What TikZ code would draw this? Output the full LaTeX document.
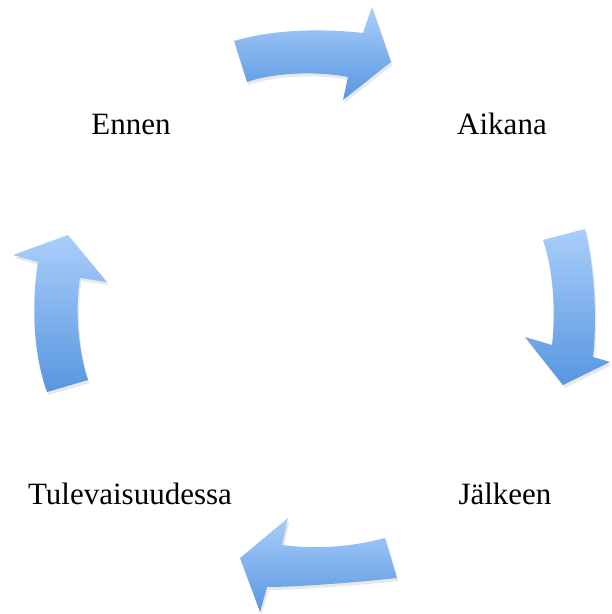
\documentclass[tikz,border=0pt]{standalone}
\usepackage{fontspec}
\setmainfont{Liberation Serif}
\usetikzlibrary{shadows}
\definecolor{arrowtop}{RGB}{170,206,250}
\definecolor{arrowbottom}{RGB}{88,150,224}
\tikzset{
  cyclearrow/.style={top color=arrowtop, bottom color=arrowbottom, draw=none,
    drop shadow={opacity=0.18, shadow xshift=1.5pt, shadow yshift=-3pt}},
  label/.style={font=\fontsize{31}{36}\selectfont, anchor=base, inner sep=0pt}
}
\begin{document}
\begin{tikzpicture}[x=1pt,y=1pt]
\useasboundingbox (0,0) rectangle (612,614);
\fill[white] (0,0) rectangle (612,614);
% labels
\node[label] (ennen) at (131,479) {Ennen};
\node[label] (aikana) at (502,479) {Aikana};
\node[label] (tulevaisuudessa) at (130,109) {Tulevaisuudessa};
\node[label] (jalkeen) at (505,109) {Jälkeen};
% top arrow
\path[cyclearrow] (234,573) .. controls (270,584) and (320,586) .. (363,581)
  -- (372,607) -- (391,552) -- (343,514) -- (348,537)
  .. controls (310,544) and (270,540) .. (247,532) -- cycle;
% right arrow
\path[cyclearrow] (543,374) -- (585,385) .. controls (595,344) and (597,294) .. (593,257)
  -- (610,252) -- (563,229) -- (525,277) -- (552,269)
  .. controls (556,304) and (553,344) .. (543,374) -- cycle;
% bottom arrow
\path[cyclearrow] (385,76) -- (397,36) .. controls (360,32) and (300,27) .. (267,27)
  -- (260,2) -- (240,56) -- (288,96) -- (282,69)
  .. controls (320,64) and (355,68) .. (385,76) -- cycle;
% left arrow
\path[cyclearrow] (68,379) -- (107,332) -- (80,336)
  .. controls (75,304) and (78,264) .. (88,234) -- (47,222)
  .. controls (32,264) and (32,314) .. (38,352) -- (13,359) -- cycle;
\end{tikzpicture}
\end{document}
